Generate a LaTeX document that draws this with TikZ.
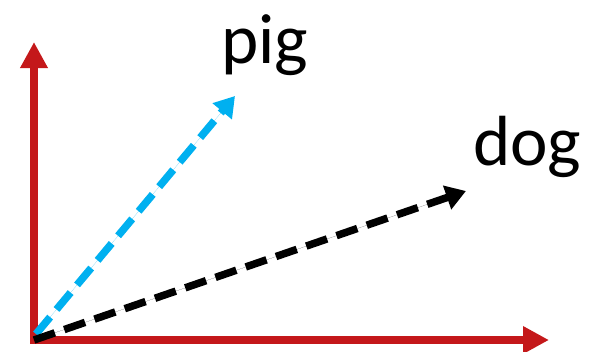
\documentclass[tikz,border=0pt]{standalone}
\usepackage{fontspec}
\setmainfont{Carlito}
\usetikzlibrary{arrows.meta}
\definecolor{axisred}{RGB}{196,24,26}
\definecolor{pigblue}{RGB}{0,176,240}
\tikzset{
  axis/.style={draw=axisred, line width=8pt, -{Triangle[length=26pt,width=26pt]}},
  vec/.style={line width=7.5pt, dash pattern=on 22pt off 10pt, -{Triangle[length=20pt,width=24pt]}},
  lbl/.style={font=\fontsize{71}{71}\selectfont, inner sep=0pt, anchor=base west}
}
\begin{document}
\begin{tikzpicture}[x=1pt,y=-1pt]
\useasboundingbox (0,0) rectangle (592,351);
\coordinate (o) at (34,340);
\coordinate (ytop) at (34,42);
\coordinate (xend) at (549,340);
\coordinate (ob) at (36,334);
\coordinate (pt) at (235,96);
\coordinate (dt) at (466,191);
\node[lbl] (pig) at (221,63) {pig};
\node[lbl] (dog) at (473,165) {dog};
\draw[axis] ([yshift=4pt]o) -- (ytop);
\draw[axis] ([xshift=-4pt]o) -- (xend);
\draw[vec, draw=pigblue, fill=pigblue] (ob) -- (pt);
\draw[vec, draw=black, fill=black] (o) -- (dt);
\end{tikzpicture}
\end{document}
